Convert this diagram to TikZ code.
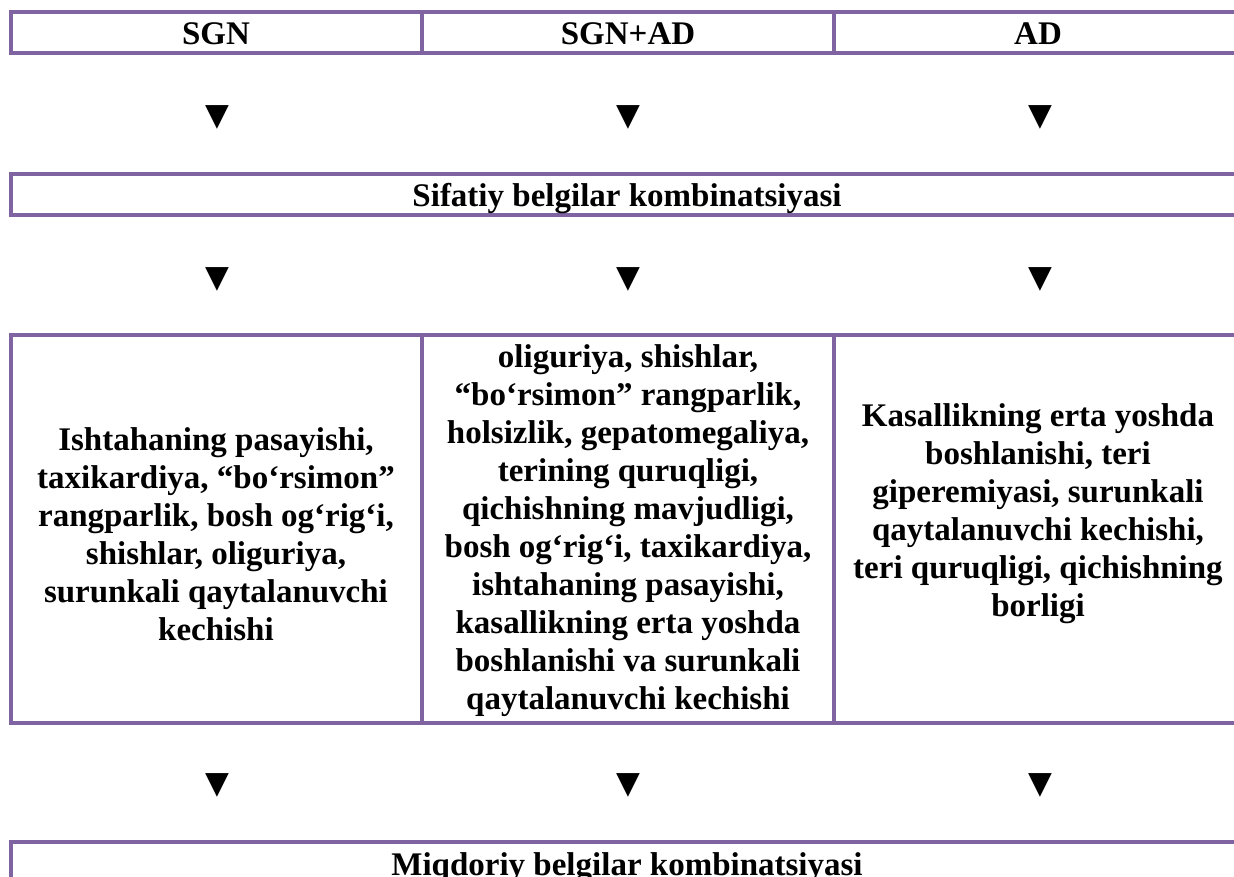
\documentclass[tikz,border=0pt]{standalone}
\usepackage{fontspec}
\setmainfont{Liberation Serif}
\newfontfamily\symfont{DejaVu Sans}
\definecolor{framecol}{HTML}{8064A2}
\begin{document}
\begin{tikzpicture}[x=1pt,y=-1pt,
  frameline/.style={draw=framecol, line width=4pt},
  celltext/.style={align=center, font=\fontsize{33}{38}\selectfont\bfseries, inner sep=0pt},
  tri/.style={font=\symfont\fontsize{31}{31}\selectfont, inner sep=0pt}]
\useasboundingbox (0,0) rectangle (1234,877);
\clip (0,0) rectangle (1234,877);
% frames
\draw[frameline] (11,12) rectangle (1242,53);
\draw[frameline] (422,12) -- (422,53);
\draw[frameline] (834,12) -- (834,53);
\draw[frameline] (11,174) rectangle (1242,215);
\draw[frameline] (11,335) rectangle (1242,723);
\draw[frameline] (422,335) -- (422,723);
\draw[frameline] (834,335) -- (834,723);
\draw[frameline] (11,842) rectangle (1242,910);
% header row
\node[celltext, anchor=base] (sgn) at (216,45) {SGN};
\node[celltext, anchor=base] (sgnad) at (628,45) {SGN+AD};
\node[celltext, anchor=base] (ad) at (1038,45) {AD};
% arrows row 1
\node[tri] (t11) at (217,117) {▼};
\node[tri] (t12) at (628,117) {▼};
\node[tri] (t13) at (1040,117) {▼};
% Sifatiy
\node[celltext, anchor=base] (sif) at (627,207) {Sifatiy belgilar kombinatsiyasi};
% arrows row 2
\node[tri] (t21) at (217,279) {▼};
\node[tri] (t22) at (628,279) {▼};
\node[tri] (t23) at (1040,279) {▼};
% big row
\node[celltext] (c1) at (216,534) {Ishtahaning pasayishi,\\ taxikardiya, “bo‘rsimon”\\ rangparlik, bosh og‘rig‘i,\\ shishlar, oliguriya,\\ surunkali qaytalanuvchi\\ kechishi};
\node[celltext] (c2) at (628,531) {oliguriya, shishlar,\\ “bo‘rsimon” rangparlik,\\ holsizlik, gepatomegaliya,\\ terining quruqligi,\\ qichishning mavjudligi,\\ bosh og‘rig‘i, taxikardiya,\\ ishtahaning pasayishi,\\ kasallikning erta yoshda\\ boshlanishi va surunkali\\ qaytalanuvchi kechishi};
\node[celltext] (c3) at (1038,514) {Kasallikning erta yoshda\\ boshlanishi, teri\\ giperemiyasi, surunkali\\ qaytalanuvchi kechishi,\\ teri quruqligi, qichishning\\ borligi};
% arrows row 3
\node[tri] (t31) at (217,785) {▼};
\node[tri] (t32) at (628,785) {▼};
\node[tri] (t33) at (1040,785) {▼};
% bottom
\node[celltext, anchor=base] (miq) at (627,875) {Miqdoriy belgilar kombinatsiyasi};
\end{tikzpicture}
\end{document}
